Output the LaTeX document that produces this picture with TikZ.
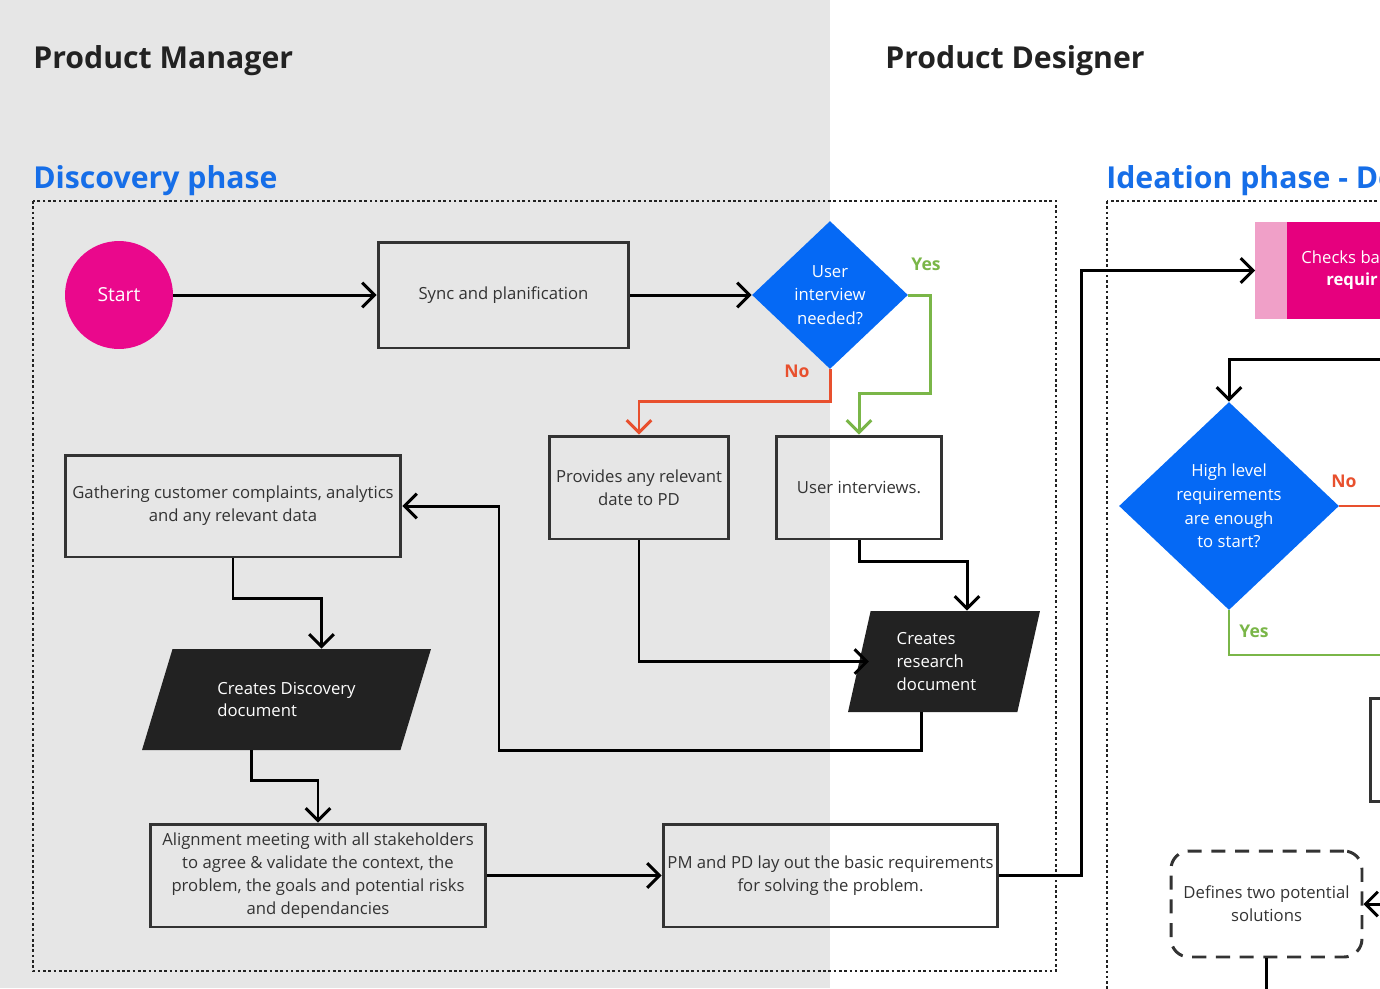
\documentclass[tikz,border=0pt]{standalone}
\usepackage{fontspec}
\setmainfont{Open Sans}
\usetikzlibrary{shapes.geometric,arrows.meta,positioning}
\definecolor{pmgray}{RGB}{230,230,230}
\definecolor{phaseblue}{RGB}{22,110,232}
\definecolor{decblue}{RGB}{5,105,245}
\definecolor{startpink}{RGB}{234,8,140}
\definecolor{chkmag}{RGB}{230,0,126}
\definecolor{chkpink}{RGB}{240,160,200}
\definecolor{yesgreen}{RGB}{122,182,72}
\definecolor{nored}{RGB}{232,80,46}
\definecolor{docblack}{RGB}{34,34,34}
\definecolor{boxline}{RGB}{51,51,51}
\begin{document}
\begin{tikzpicture}[x=0.02cm,y=-0.02cm,
  head/.style={anchor=west, inner sep=0pt, text=docblack, font=\fontsize{17.2}{20}\selectfont\bfseries},
  phase/.style={head, text=phaseblue},
  frame/.style={draw=docblack, line width=1.5pt, dash pattern=on 1.5pt off 1.5pt},
  box/.style={draw=boxline, line width=1.7pt, rectangle, align=center, text=boxline, inner sep=1pt, font=\fontsize{9.5}{13}\selectfont},
  decision/.style={diamond, fill=decblue, text=white, align=center, inner sep=0pt, font=\fontsize{9.5}{13.5}\selectfont},
  doc/.style={trapezium, trapezium stretches body, fill=docblack, text=white, align=left, font=\fontsize{9.5}{13}\selectfont},
  arr/.style={line width=1.7pt, draw=black, -{Straight Barb[length=7pt,width=14pt]}},
  line/.style={line width=1.7pt, draw=black},
  yesline/.style={line width=1.4pt, draw=yesgreen},
  noline/.style={line width=1.4pt, draw=nored},
  yesarr/.style={arr, draw=yesgreen},
  noarr/.style={arr, draw=nored},
  yeslbl/.style={text=yesgreen, font=\fontsize{10}{12}\selectfont\bfseries},
  nolbl/.style={text=nored, font=\fontsize{10}{12}\selectfont\bfseries}]
\clip (0,0) rectangle (1380,988);
\fill[pmgray] (0,0) rectangle (830,988);
\node[head] (pmhead) at (33,61) {Product Manager};
\node[head] (pdhead) at (885,61) {Product Designer};
\node[phase] (dischead) at (33,181) {Discovery phase};
\node[phase] (ideahead) at (1106,181) {Ideation phase - De};
\draw[frame] (33,201) rectangle (1056,971);
\draw[frame] (1107,201) rectangle (1500,1100);

\node[circle, fill=startpink, text=white, minimum size=2.16cm, font=\fontsize{11}{13}\selectfont] (start) at (119,295) {Start};
\node[box, minimum width=5.02cm, minimum height=2.12cm] (sync) at (503.5,295) {Sync and planification};
\node[decision, minimum width=3.12cm, minimum height=2.96cm] (uneed) at (830,295) {User\\interview\\needed?};
\node[box, minimum width=3.6cm, minimum height=2.06cm] (prov) at (639,487.5) {Provides any relevant\\date to PD};
\node[box, minimum width=3.32cm, minimum height=2.06cm] (uint) at (859,487.5) {User interviews.};
\node[box, minimum width=6.72cm, minimum height=2.04cm] (gath) at (233,506) {Gathering customer complaints, analytics\\and any relevant data};
\node[doc, trapezium left angle=72, trapezium right angle=108, minimum width=3.84cm, minimum height=2.02cm] (rdoc) at (944,661.5) {Creates\\research\\document\hspace*{0.3cm}};
\node[doc, trapezium left angle=57, trapezium right angle=123, minimum width=5.78cm, minimum height=2.02cm] (ddoc) at (286.5,699.5) {Creates Discovery\\document};
\node[box, minimum width=6.72cm, minimum height=2.06cm] (align) at (318,875.5) {Alignment meeting with all stakeholders\\to agree \& validate the context, the\\problem, the goals and potential risks\\and dependancies};
\node[box, minimum width=6.7cm, minimum height=2.06cm] (pmpd) at (830.5,875.5) {PM and PD lay out the basic requirements\\for solving the problem.};

\node[fill=chkpink, minimum width=4.5cm, minimum height=1.94cm, anchor=west, inner sep=0pt] (chk) at (1255,270.5) {};
\fill[chkmag] ([xshift=0.64cm]chk.north west) rectangle (chk.south east);
\node[anchor=west, inner sep=0pt, text=white, font=\fontsize{9.5}{12}\selectfont] (chkt1) at (1301,257) {Checks ba};
\node[anchor=west, inner sep=0pt, text=white, font=\fontsize{9.5}{12}\selectfont\bfseries] (chkt2) at (1326,281) {requir};
\node[decision, minimum width=4.4cm, minimum height=4.16cm] (hlreq) at (1229,506) {High level\\requirements\\are enough\\to start?};
\node[box, anchor=north west, minimum width=1.2cm, minimum height=2.06cm] (nxt) at (1369,697) {};
\node[box, rounded corners=0.36cm, dash pattern=on 8pt off 5.5pt, minimum width=3.82cm, minimum height=2.12cm] (defs) at (1266.5,904) {Defines two potential\\solutions};
\coordinate (rin) at (1400,359);
\coordinate (rno) at (1400,506);
\coordinate (ryes) at (1400,655);
\coordinate (rdef) at (1400,904);
\coordinate (loopc) at (499,750);

\draw[arr] (start) -- (sync);
\draw[arr] (sync) -- (uneed);
\draw[yesarr] (uneed.east) -- ++(22,0) -- ++(0,98) -| (uint.north);
\draw[noarr] (uneed.south) -- ++(0,32) -| (prov.north);
\node[yeslbl] (ylbl1) at (926,264) {Yes};
\node[nolbl] (nlbl1) at (797,371) {No};
\draw[arr] (uint.south) -- ++(0,21) -| ([xshift=0.46cm]rdoc.north);
\draw[arr] (prov.south) |- ([xshift=0.2cm]rdoc.west);
\draw[arr] ([xshift=-0.46cm]rdoc.south) |- (loopc) |- (gath.east);
\draw[arr] (gath.south) -- ++(0,40) -| ([xshift=0.7cm]ddoc.north);
\draw[arr] ([xshift=-0.7cm]ddoc.south) -- ++(0,30) -| (align.north);
\draw[arr] (align) -- (pmpd);
\draw[arr] (pmpd.east) -- ++(82,0) |- (chk.west);

\draw[arr] (rin) -| (hlreq.north);
\draw[noline] (hlreq.east) -- (rno);
\draw[yesline] (hlreq.south) |- (ryes);
\node[nolbl] (nlbl2) at (1344,481) {No};
\node[yeslbl] (ylbl2) at (1254,631) {Yes};
\draw[arr] (rdef) -- (defs.east);
\draw[line] (defs.south) -- ++(0,50);
\end{tikzpicture}
\end{document}
